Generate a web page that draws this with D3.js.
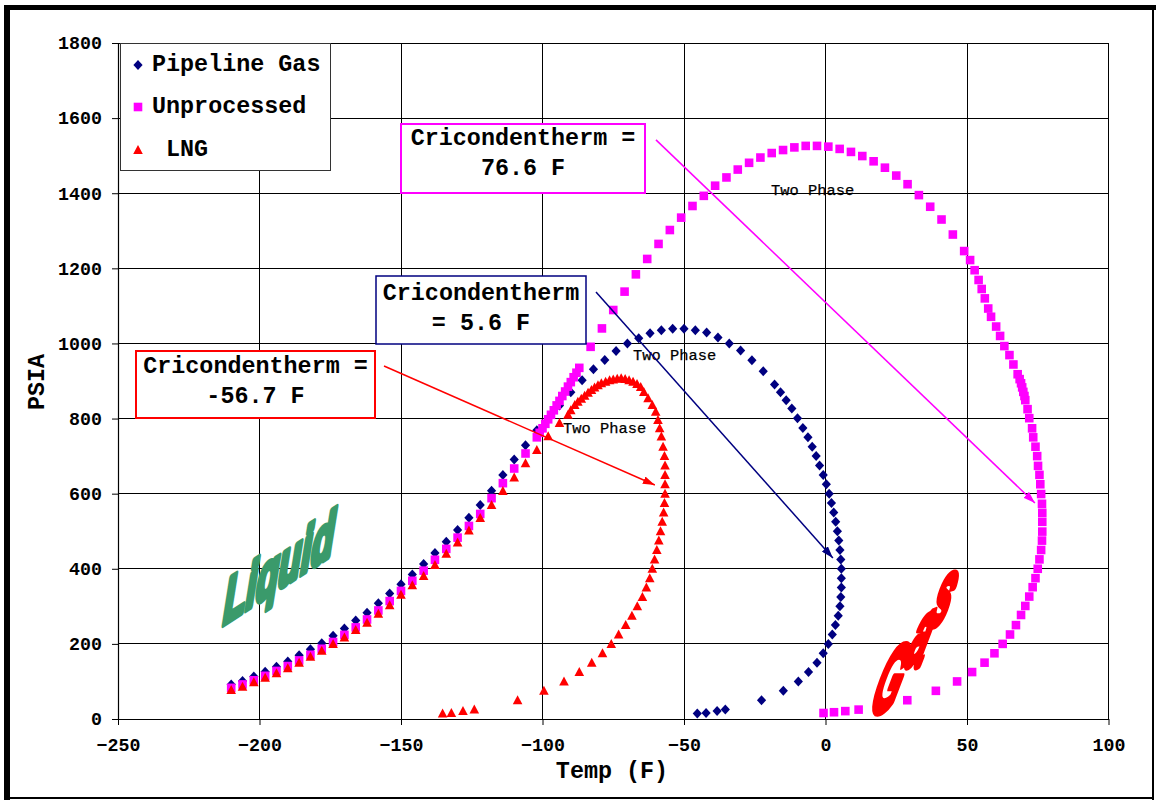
<!DOCTYPE html>
<html>
<head>
<meta charset="utf-8">
<title>Phase envelopes</title>
<script src="https://cdn.jsdelivr.net/npm/d3@7"></script>
<style>
  html, body { margin: 0; padding: 0; background: #fff; }
  svg { display: block; }
</style>
</head>
<body>
<svg id="chart" width="1156" height="801"></svg>
<script>
// ---------------- data ----------------
const xTicks = [-250, -200, -150, -100, -50, 0, 50, 100];
const yTicks = [0, 200, 400, 600, 800, 1000, 1200, 1400, 1600, 1800];
const seriesNames = ["Pipeline Gas", "Unprocessed", "LNG"];

// Pipeline gas phase envelope (temperature F, pressure psia)
const pipelineTemp = [
  -210, -206, -202, -198, -194, -190, -186, -182, -178, -174, -170, -166, -162, -158, -154,
  -150, -146, -142, -138, -134, -130, -126, -122, -118, -114, -110, -106, -102, -98, -94,
  -90, -86, -82, -78, -74, -70, -66, -62, -58, -54, -50, -46, -42, -38, -34, -30, -26, -22, -18,
  -15.9, -13.9, -11.9, -9.9, -8.0, -6.2, -4.7, -3.3, -2.1, -0.8, 0.3, 1.3, 2.1, 2.9, 3.6, 4.2,
  4.7, 5.1, 5.4, 5.6, 5.6, 5.6, 5.4, 5.1, 4.5, 3.5, 2.4, 1.0, -0.8, -3.0, -6.0, -9.6, -14.9,
  -22.6, -35.4, -38.3, -42.2, -45.3
];
const pipelinePsia = [
  92, 101, 113, 126, 139, 153, 170, 186, 202, 222, 241, 262, 283, 308, 334,
  359, 385, 413, 442, 472, 503, 536, 570, 608, 650, 691, 729, 769, 800, 835,
  870, 902, 931, 956, 980, 1000, 1014, 1027, 1035, 1039, 1039, 1035, 1029, 1016, 1000, 981, 955, 926, 891,
  870, 849, 827, 801, 775, 750, 725, 700, 675, 650, 625, 600, 575, 550, 525, 500,
  475, 450, 425, 400, 375, 350, 325, 300, 275, 250, 225, 200, 175, 150, 125, 100, 75,
  50, 25, 21, 16, 14.7
];

// Unprocessed gas phase envelope
const unprocessedTemp = [
  -210, -206, -202, -198, -194, -190, -186, -182, -178, -174, -170, -166, -162, -158, -154,
  -150, -146, -142, -138, -134, -130, -126, -122, -118, -114, -110, -106, -102,
  -101, -100, -99, -98, -97, -96, -95, -94, -93, -92, -91, -90, -89, -88, -87,
  -83, -79, -75, -71, -67, -63, -59, -55, -51, -47, -43, -39, -35, -31, -27, -23, -19, -15,
  -11, -7, -3, 1, 5, 9, 13, 17, 21, 25, 29, 33, 37, 41, 45, 49,
  51.1, 52.7, 54.1, 55.2, 56.3, 57.5, 58.5, 60.3, 61.7, 63.2, 65.0, 66.4, 67.9, 68.6, 69.1,
  69.5, 69.9, 70.3, 70.6, 71.4, 72.0, 73.0, 73.4, 74.2, 74.8, 75.1, 75.6, 75.9, 76.2, 76.5,
  76.6, 76.6, 76.6, 76.5, 76.2, 75.6, 75.0, 74.2, 73.2, 72.0, 70.6, 69.1, 67.3, 65.2, 62.6,
  59.7, 56.2, 51.8, 46.5, 39.0, 28.9, 11.7, 7.0, 3.0, -0.7
];
const unprocessedPsia = [
  83, 92, 103, 115, 128, 141, 156, 171, 187, 205, 224, 244, 265, 289, 314,
  341, 368, 395, 424, 453, 483, 514, 546, 588, 628, 667, 707, 750,
  762, 774, 786, 798, 810, 822, 835, 847, 860, 872, 885, 897, 910, 922, 935,
  991, 1040, 1089, 1138, 1184, 1225, 1265, 1302, 1335, 1366, 1393, 1420, 1442, 1463, 1481, 1495, 1507, 1515,
  1522, 1526, 1526, 1524, 1518, 1510, 1499, 1485, 1468, 1447, 1424, 1395, 1364, 1330, 1290, 1246,
  1222, 1195, 1169, 1145, 1120, 1093, 1071, 1045, 1020, 993, 969, 944, 918, 905, 894,
  883, 871, 860, 849, 825, 801, 774, 750, 725, 700, 674, 650, 625, 599, 573,
  549, 525, 499, 475, 450, 425, 400, 375, 351, 326, 301, 277, 250, 225, 200,
  175, 150, 125, 100, 75, 50, 25, 21, 18, 16
];

// LNG phase envelope
const lngTemp = [
  -210, -206, -202, -198, -194, -190, -186, -182, -178, -174, -170, -166, -162, -158, -154,
  -150, -146, -142, -138, -134, -130, -126, -122, -118, -114, -110, -106, -102, -98, -94,
  -91, -90, -88.6, -87.5, -86.3, -85.1, -83.9, -82.7, -81.6, -80.4, -79.2, -77.7, -76.3, -75.0,
  -73.6, -72.2, -70.8, -69.4, -68.0, -66.6, -65.3,
  -64.2, -62.7, -61.2, -60.0, -59.2, -58.6, -58.0, -57.4, -56.9, -56.7, -56.7, -56.7, -56.7,
  -56.9, -57.2, -57.7, -58.3, -58.9, -59.6, -60.4, -61.2, -62.1, -63.3, -64.7, -66.5, -68.4,
  -70.6, -73.1, -75.7, -78.8, -82.6, -87.0, -92.4, -99.5, -108.8, -124.1, -128.1, -132.2, -135.3
];
const lngPsia = [
  77, 86, 98, 110, 122, 135, 150, 166, 182, 200, 217, 237, 256, 280, 303,
  331, 356, 381, 410, 440, 470, 502, 535, 570, 607, 643, 681, 716, 753, 788,
  810, 822, 836, 845, 853, 861, 869, 876, 883, 889, 894, 898, 902, 904,
  906, 907, 905, 902, 898, 892, 884,
  871, 854, 836, 818, 796, 774, 752, 725, 700, 675, 650, 625, 600,
  575, 550, 525, 500, 475, 450, 425, 400, 375, 350, 325, 300, 275,
  250, 225, 200, 175, 150, 125, 100, 75, 50, 25, 21, 16, 14.7
];

// Cricondentherm labels, in series order
const cricondenthermLabels = [
  ["Cricondentherm", "= 5.6 F"],
  ["Cricondentherm =", "76.6 F"],
  ["Cricondentherm =", "-56.7 F"]
];
const regionLabels = ["Two Phase", "Two Phase", "Two Phase"];

// ---------------- layout ----------------
const W = 1156, H = 801;
const mono = "'Liberation Mono', 'Courier New', monospace";
const colors = ["#000080", "#FF00FF", "#FF0000"];
const bigFont = 23.4;

const svg = d3.select("#chart");

const x = d3.scaleLinear().domain([-250, 100]).range([118, 1108.5]);
const y = d3.scaleLinear().domain([0, 1800]).range([719, 43]);

// page background and frame
svg.append("rect").attr("width", W).attr("height", H).attr("fill", "#fff");
const frame = svg.append("g").attr("fill", "#000");
frame.append("rect").attr("x", 4).attr("y", 5).attr("width", 6).attr("height", 795);
frame.append("rect").attr("x", 4).attr("y", 5).attr("width", 1152).attr("height", 5);
frame.append("rect").attr("x", 1152).attr("y", 5).attr("width", 2).attr("height", 795);
frame.append("rect").attr("x", 4).attr("y", 797).attr("width", 1150).attr("height", 2);

// grid
const grid = svg.append("g").attr("stroke", "#000").attr("stroke-width", 1)
  .attr("shape-rendering", "crispEdges");
grid.selectAll("line.v").data(xTicks.slice(1)).join("line")
  .attr("class", "v")
  .attr("x1", d => x(d)).attr("x2", d => x(d))
  .attr("y1", y(0)).attr("y2", y(1800));
grid.selectAll("line.h").data(yTicks.slice(1)).join("line")
  .attr("class", "h")
  .attr("x1", x(-250)).attr("x2", x(100))
  .attr("y1", d => y(d)).attr("y2", d => y(d));

// axes
const yAxis = svg.append("g")
  .attr("transform", `translate(${x(-250)},0)`)
  .call(d3.axisLeft(y).tickValues(yTicks).tickFormat(d3.format("d"))
    .tickSize(6).tickPadding(10).tickSizeOuter(0));
const xAxis = svg.append("g")
  .attr("transform", `translate(0,${y(0)})`)
  .call(d3.axisBottom(x).tickValues(xTicks).tickFormat(d3.format("d"))
    .tickSize(6).tickSizeOuter(0));
[yAxis, xAxis].forEach(a => {
  a.select(".domain").attr("stroke", "#000").attr("stroke-width", 1.2);
  a.selectAll(".tick line").attr("stroke", "#000").attr("stroke-width", 1);
  a.selectAll("text").attr("font-family", mono).attr("font-weight", "bold")
    .attr("font-size", 18.3).attr("fill", "#000");
});
xAxis.selectAll("text").attr("y", 32).attr("dy", 0);

// axis titles
svg.append("text").attr("x", 612).attr("y", 778).attr("text-anchor", "middle")
  .attr("font-family", mono).attr("font-weight", "bold").attr("font-size", bigFont)
  .text("Temp (F)");
svg.append("text").attr("transform", "translate(44,382) rotate(-90)")
  .attr("text-anchor", "middle")
  .attr("font-family", mono).attr("font-weight", "bold").attr("font-size", bigFont)
  .text("PSIA");

// marker shapes
const shapes = [
  "M0,-5L4.6,0L0,5L-4.6,0Z",
  "M-4.3,-4.3H4.3V4.3H-4.3Z",
  "M0,-5L4.8,4L-4.8,4Z"
];

// region labels
const regionPos = [[633, 360], [771, 195], [563, 433]];
regionLabels.forEach((t, i) => {
  svg.append("text").attr("x", regionPos[i][0]).attr("y", regionPos[i][1])
    .attr("font-family", mono).attr("font-size", 15.4).attr("fill", "#000")
    .attr("stroke", "#000").attr("stroke-width", 0.25)
    .text(t);
});

// WordArt style region names
svg.append("text")
  .attr("transform", "matrix(0.54,-0.348,-0.16,1.0,221,626)")
  .attr("font-family", "'Liberation Sans', Arial, sans-serif")
  .attr("font-weight", "bold").attr("font-size", 68)
  .attr("fill", "#3a9a6b").attr("stroke", "#3a9a6b").attr("stroke-width", 7)
  .attr("stroke-linejoin", "round")
  .text("Liquid");

const gas = svg.append("text")
  .attr("transform", "matrix(0.5,0,-0.589,1.55,867,712)")
  .attr("font-family", "'Liberation Sans', Arial, sans-serif")
  .attr("font-weight", "bold").attr("font-size", 62)
  .attr("fill", "#FF0000").attr("stroke", "#FF0000").attr("stroke-width", 5)
  .attr("stroke-linejoin", "round");
[["G", 0, 0], ["a", 36, -29.7], ["s", 50.5, -56.1]].forEach(([ch, tx, ty]) => {
  gas.append("tspan").attr("x", tx).attr("y", ty).text(ch);
});

// data series
const series = [
  { name: seriesNames[0], temp: pipelineTemp, psia: pipelinePsia },
  { name: seriesNames[1], temp: unprocessedTemp, psia: unprocessedPsia },
  { name: seriesNames[2], temp: lngTemp, psia: lngPsia }
];
series.forEach((s, i) => {
  const pts = s.temp.map((t, k) => [t, s.psia[k]]);
  svg.append("g").selectAll("path").data(pts).join("path")
    .attr("d", shapes[i])
    .attr("transform", d => `translate(${x(d[0])},${y(d[1])})`)
    .attr("fill", colors[i]);
});

// cricondentherm call-outs: boxes, text and arrows (arrow ends in data units)
const defs = svg.append("defs");
colors.forEach((c, i) => {
  defs.append("marker").attr("id", "arrow" + i)
    .attr("viewBox", "0 0 12 8").attr("refX", 12).attr("refY", 4)
    .attr("markerWidth", 12).attr("markerHeight", 8)
    .attr("markerUnits", "userSpaceOnUse").attr("orient", "auto")
    .append("path").attr("d", "M0,0L12,4L0,8Z").attr("fill", c);
});
const callouts = [
  { box: [376, 276, 210, 68], lines: [300, 330], cx: 481, from: [-81.1, 1137], to: [2.6, 429], sw: 1.5 },
  { box: [401, 124, 244, 69], lines: [145, 175], cx: 523, from: [-59.9, 1542], to: [74.0, 575], sw: 2 },
  { box: [136, 351, 239, 67], lines: [373, 403], cx: 255.5, from: [-156, 940], to: [-60.3, 623], sw: 2 }
];
callouts.forEach((c, i) => {
  const [bx, by, bw, bh] = c.box;
  svg.append("rect").attr("x", bx).attr("y", by).attr("width", bw).attr("height", bh)
    .attr("fill", "#fff").attr("stroke", colors[i]).attr("stroke-width", c.sw);
  cricondenthermLabels[i].forEach((t, j) => {
    svg.append("text").attr("x", c.cx).attr("y", c.lines[j]).attr("text-anchor", "middle")
      .attr("font-family", mono).attr("font-weight", "bold").attr("font-size", bigFont)
      .attr("fill", "#000").text(t);
  });
  svg.append("line")
    .attr("x1", x(c.from[0])).attr("y1", y(c.from[1]))
    .attr("x2", x(c.to[0])).attr("y2", y(c.to[1]))
    .attr("stroke", colors[i]).attr("stroke-width", 1.5)
    .attr("marker-end", `url(#arrow${i})`);
});

// legend
const legend = svg.append("g");
legend.append("rect").attr("x", 120.5).attr("y", 43.5).attr("width", 210).attr("height", 127)
  .attr("fill", "#fff").attr("stroke", "#333").attr("stroke-width", 1);
const legendRows = [65, 107, 150];
const legendText = [seriesNames[0], seriesNames[1], " " + seriesNames[2]];
seriesNames.forEach((n, i) => {
  legend.append("path").attr("d", shapes[i])
    .attr("transform", `translate(138,${legendRows[i]})`).attr("fill", colors[i]);
  legend.append("text").attr("x", 152).attr("y", legendRows[i] + 6)
    .attr("font-family", mono).attr("font-weight", "bold").attr("font-size", bigFont)
    .attr("xml:space", "preserve").style("white-space", "pre")
    .text(legendText[i]);
});
</script>
</body>
</html>
